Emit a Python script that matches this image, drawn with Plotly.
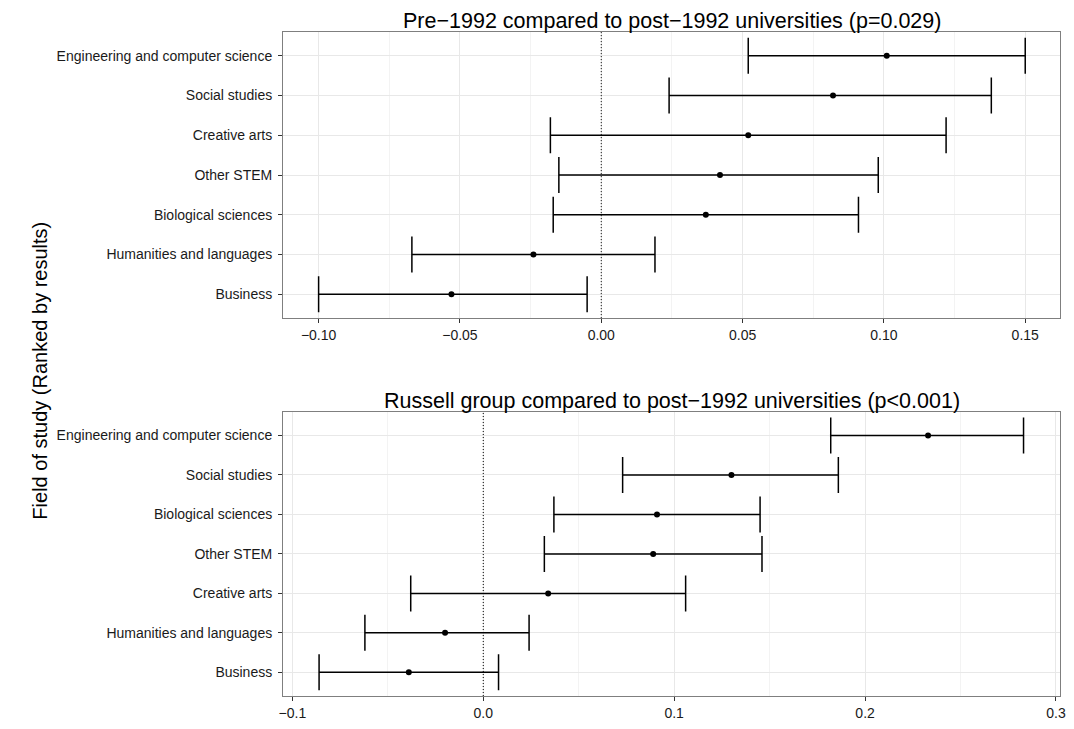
import plotly.graph_objects as go

# ---- Data (listed top-to-bottom as displayed) ----
top_fields = ["Engineering and computer science", "Social studies", "Creative arts",
              "Other STEM", "Biological sciences", "Humanities and languages", "Business"]
top_est = [0.101, 0.082, 0.052, 0.042, 0.037, -0.024, -0.053]
top_lo = [0.052, 0.024, -0.018, -0.015, -0.017, -0.067, -0.100]
top_hi = [0.150, 0.138, 0.122, 0.098, 0.091, 0.019, -0.005]

bot_fields = ["Engineering and computer science", "Social studies", "Biological sciences",
              "Other STEM", "Creative arts", "Humanities and languages", "Business"]
bot_est = [0.233, 0.130, 0.091, 0.089, 0.034, -0.020, -0.039]
bot_lo = [0.182, 0.073, 0.037, 0.032, -0.038, -0.062, -0.086]
bot_hi = [0.283, 0.186, 0.145, 0.146, 0.106, 0.024, 0.008]

top_title = "Pre\u22121992 compared to post\u22121992 universities (p=0.029)"
bot_title = "Russell group compared to post\u22121992 universities (p<0.001)"
y_title = "Field of study (Ranked by results)"

FONT = "Liberation Sans, Arial, Helvetica, sans-serif"
TXT = "#1a1a1a"

fig = go.Figure()

def add_panel(fields, est, lo, hi, xa, ya):
    fig.add_trace(go.Scatter(
        x=est, y=fields, mode="markers", xaxis=xa, yaxis=ya,
        marker=dict(color="black", size=6),
        error_x=dict(type="data", symmetric=False,
                     array=[h - e for h, e in zip(hi, est)],
                     arrayminus=[e - l for e, l in zip(est, lo)],
                     color="black", thickness=1.5, width=18),
        showlegend=False, hoverinfo="x+y"))

add_panel(top_fields, top_est, top_lo, top_hi, "x", "y")
add_panel(bot_fields, bot_est, bot_lo, bot_hi, "x2", "y2")

W, H = 1074, 729
ml, mr, mt, mb = 283, 8, 32, 24
ph = H - mt - mb
top_dom = [1 - 290 / ph, 1]
bot_dom = [0, 288 / ph]

axis_common = dict(
    showline=True, mirror=True, linecolor="#7f7f7f", linewidth=1,
    ticks="outside", ticklen=4, tickcolor="#333333", tickwidth=1,
    showgrid=True, gridcolor="#e8e8e8", gridwidth=1, zeroline=False,
    tickfont=dict(family=FONT, size=14, color=TXT),
)

fig.update_layout(
    width=W, height=H,
    margin=dict(l=ml, r=mr, t=mt, b=mb),
    paper_bgcolor="white", plot_bgcolor="white",
    font=dict(family=FONT, color=TXT),
    xaxis=dict(axis_common, anchor="y", domain=[0, 1], range=[-0.1126, 0.1623],
               tick0=0, dtick=0.05, tickformat=".2f",
               minor=dict(dtick=0.025, tick0=0, showgrid=True, gridcolor="#f3f3f3", ticklen=0)),
    yaxis=dict(axis_common, anchor="x", domain=top_dom, type="category",
               categoryorder="array", categoryarray=top_fields[::-1],
               range=[-0.6, 6.6], ticklabelstandoff=3),
    xaxis2=dict(axis_common, anchor="y2", domain=[0, 1], range=[-0.1049, 0.3021],
                tick0=0, dtick=0.1, tickformat=".1f",
                minor=dict(dtick=0.05, tick0=0, showgrid=True, gridcolor="#f3f3f3", ticklen=0)),
    yaxis2=dict(axis_common, anchor="x2", domain=bot_dom, type="category",
                categoryorder="array", categoryarray=bot_fields[::-1],
                range=[-0.6, 6.6], ticklabelstandoff=3),
)

# zero reference lines
for xr, yr in (("x", "y domain"), ("x2", "y2 domain")):
    fig.add_shape(type="line", xref=xr, yref=yr, x0=0, x1=0, y0=0, y1=1,
                  line=dict(color="black", width=1, dash="1px,2px"), layer="above")

# titles
fig.add_annotation(text=top_title, xref="paper", yref="paper", x=0.5, y=top_dom[1],
                   xanchor="center", yanchor="bottom", showarrow=False, yshift=-3,
                   font=dict(family=FONT, size=21.5, color="black"))
fig.add_annotation(text=bot_title, xref="paper", yref="paper", x=0.5, y=bot_dom[1],
                   xanchor="center", yanchor="bottom", showarrow=False, yshift=-3,
                   font=dict(family=FONT, size=21.5, color="black"))
fig.add_annotation(text=y_title, xref="paper", yref="paper", x=0, y=0.49,
                   xshift=-(ml - 40), xanchor="center", yanchor="middle",
                   textangle=-90, showarrow=False,
                   font=dict(family=FONT, size=20, color="black"))

fig.write_html("out.html")
